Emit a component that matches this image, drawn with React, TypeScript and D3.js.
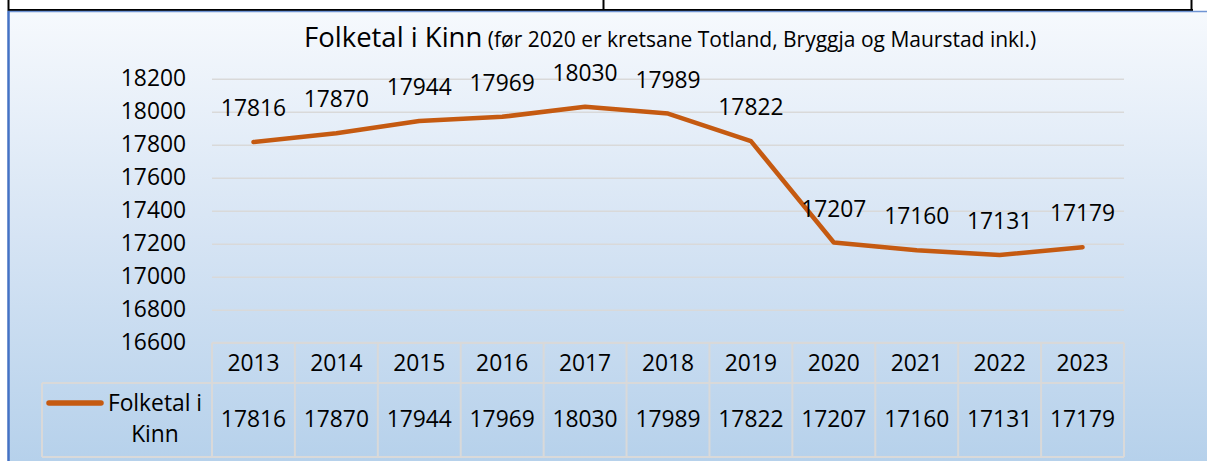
import React from "react";
import * as d3 from "d3";

// -- DATA --
const years = ["2013", "2014", "2015", "2016", "2017", "2018", "2019", "2020", "2021", "2022", "2023"];
const folketal = [17816, 17870, 17944, 17969, 18030, 17989, 17822, 17207, 17160, 17131, 17179];
const yTicks = [16600, 16800, 17000, 17200, 17400, 17600, 17800, 18000, 18200];
const seriesLines = ["Folketal i", "Kinn"];
const titleMain = "Folketal i Kinn";
const titleNote = "(før 2020 er kretsane Totland, Bryggja og Maurstad inkl.)";

const W = 1207;
const H = 461;
const FONT = "'Open Sans', 'Noto Sans', sans-serif";
const LINE_COLOR = "#C55A11";
const GRID = "#d9d9d9";

const App = () => {
  const axisRef = React.useRef<SVGGElement>(null);
  const plot = { left: 212, right: 1124, top: 78.7, bottom: 342.7 };
  const table = { headBottom: 383, bottom: 457, legendLeft: 42 };

  const x = d3.scaleBand<string>().domain(years).range([plot.left, plot.right]);
  const y = d3.scaleLinear().domain([16600, 18200]).range([plot.bottom, plot.top]);
  const cx = (yr: string) => (x(yr) as number) + x.bandwidth() / 2;

  const line = d3
    .line<number>()
    .x((_, i) => cx(years[i]))
    .y((d) => y(d));

  // gridlines + y labels through d3 axis
  React.useEffect(() => {
    const g = d3.select(axisRef.current);
    g.selectAll("*").remove();
    g.attr("transform", `translate(${plot.left},0)`).call(
      d3
        .axisLeft(y)
        .tickValues(yTicks)
        .tickSize(-(plot.right - plot.left))
        .tickPadding(26)
        .tickFormat((d) => String(d))
    );
    g.select(".domain").remove();
    g.selectAll(".tick line").attr("stroke", GRID).attr("stroke-width", 1.6);
    g.selectAll(".tick text")
      .attr("fill", "#000")
      .style("font-family", FONT)
      .style("font-size", "22.8px");
  }, []);

  const tableTop = plot.bottom;

  return (
    <svg width={W} height={H} style={{ position: "absolute", left: 0, top: 0 }}>
      <defs>
        <linearGradient id="bg" x1="0" y1="0" x2="0" y2="1">
          <stop offset="0%" stopColor="#f6f9fd" />
          <stop offset="50%" stopColor="#d6e4f4" />
          <stop offset="100%" stopColor="#b6d1eb" />
        </linearGradient>
      </defs>
      {/* page strip above the chart */}
      <rect x={0} y={0} width={W} height={11} fill="#fff" />
      <line x1={8.5} x2={8.5} y1={0} y2={11} stroke="#000" strokeWidth={2} />
      <line x1={603.5} x2={603.5} y1={0} y2={11} stroke="#000" strokeWidth={2} />
      <line x1={1191.5} x2={1191.5} y1={0} y2={11} stroke="#000" strokeWidth={2} />
      <line x1={8} x2={1193} y1={10} y2={10} stroke="#000" strokeWidth={2} />

      {/* chart area */}
      <rect x={8} y={11} width={W - 8} height={H - 11} fill="url(#bg)" />
      <line x1={8} x2={W} y1={11.5} y2={11.5} stroke="#6f94d4" strokeWidth={1.5} />
      <line x1={8.5} x2={8.5} y1={11} y2={H} stroke="#4472C4" strokeWidth={2.5} />

      {/* title */}
      <text x={304} y={47} fill="#000" style={{ fontFamily: FONT }}>
        <tspan fontSize={27.5}>{titleMain}</tspan>
        <tspan fontSize={21}> {titleNote}</tspan>
      </text>

      <g ref={axisRef} />

      {/* series */}
      <path
        d={line(folketal) || ""}
        fill="none"
        stroke={LINE_COLOR}
        strokeWidth={4.5}
        strokeLinejoin="round"
        strokeLinecap="round"
      />
      {folketal.map((v, i) => (
        <text
          key={"lbl" + i}
          x={cx(years[i])}
          y={y(v) - 26}
          textAnchor="middle"
          fill="#000"
          style={{ fontFamily: FONT, fontSize: 22.8 }}
        >
          {v}
        </text>
      ))}

      {/* data table */}
      <g stroke={GRID} strokeWidth={2} fill="none">
        <line x1={plot.left} x2={plot.right} y1={tableTop} y2={tableTop} />
        <line x1={table.legendLeft} x2={plot.right} y1={table.headBottom} y2={table.headBottom} />
        <line x1={table.legendLeft} x2={plot.right} y1={table.bottom} y2={table.bottom} />
        <line x1={table.legendLeft} x2={table.legendLeft} y1={table.headBottom} y2={table.bottom} />
        {years.map((yr) => (
          <line key={"v" + yr} x1={x(yr)} x2={x(yr)} y1={tableTop} y2={table.bottom} />
        ))}
        <line x1={plot.right} x2={plot.right} y1={tableTop} y2={table.bottom} />
      </g>
      {years.map((yr) => (
        <text
          key={"yr" + yr}
          x={cx(yr)}
          y={370.7}
          textAnchor="middle"
          fill="#000"
          style={{ fontFamily: FONT, fontSize: 22.8 }}
        >
          {yr}
        </text>
      ))}
      {folketal.map((v, i) => (
        <text
          key={"val" + i}
          x={cx(years[i])}
          y={427.3}
          textAnchor="middle"
          fill="#000"
          style={{ fontFamily: FONT, fontSize: 22.8 }}
        >
          {v}
        </text>
      ))}

      {/* legend key */}
      <line x1={49} x2={101} y1={403} y2={403} stroke={LINE_COLOR} strokeWidth={5.5} strokeLinecap="round" />
      {seriesLines.map((t, i) => (
        <text
          key={"leg" + i}
          x={155}
          y={411 + i * 31}
          textAnchor="middle"
          fill="#000"
          style={{ fontFamily: FONT, fontSize: 22.8 }}
        >
          {t}
        </text>
      ))}
    </svg>
  );
};

export default App;
